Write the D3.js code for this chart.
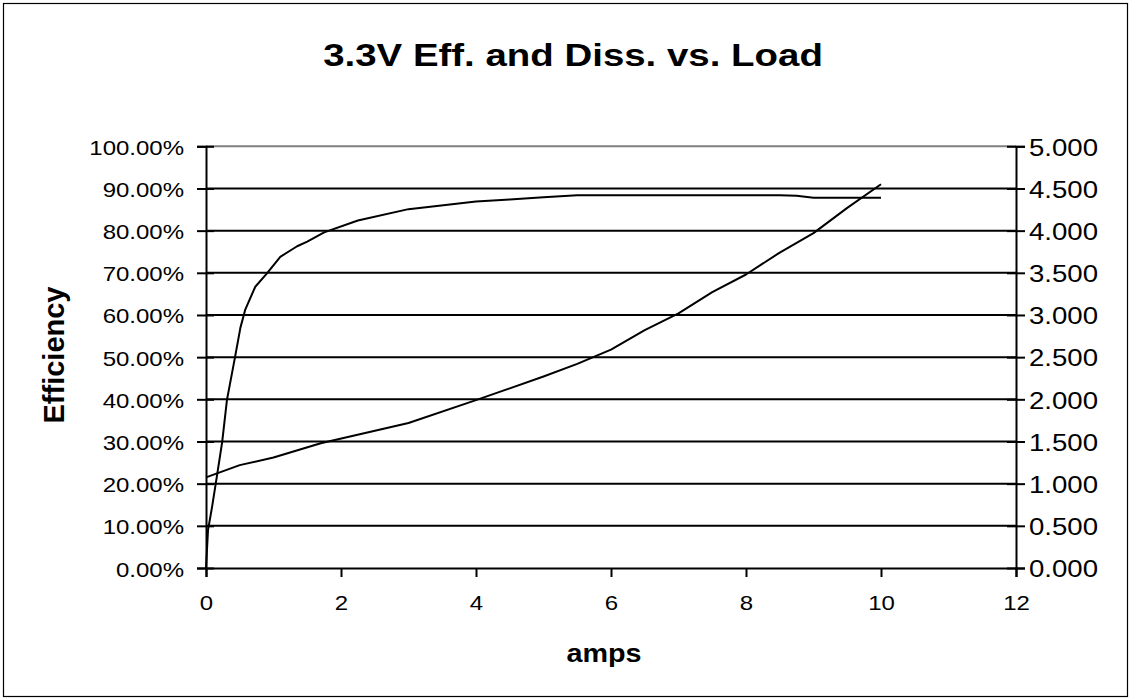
<!DOCTYPE html>
<html>
<head>
<meta charset="utf-8">
<script src="https://cdn.jsdelivr.net/npm/d3@7"></script>
<style>
  html, body { margin: 0; padding: 0; background: #fff; }
  svg { display: block; font-family: "Liberation Sans", Arial, sans-serif; }
</style>
</head>
<body>
<svg id="chart" width="1131" height="700"></svg>
<script>
// Load current (A) for the 3.3 V rail
const effAmps = [0, 0.03, 0.09, 0.16, 0.24, 0.31, 0.43, 0.51, 0.58, 0.73, 0.9, 1.1, 1.35, 1.5, 1.75, 2.25, 3.0, 4.0, 4.5, 5.0, 5.5, 6.0, 6.5, 7.0, 7.5, 8.0, 8.5, 8.75, 9.0, 9.5, 10.0];
// Conversion efficiency (fraction)
const efficiency = [0.0, 0.09, 0.145, 0.216, 0.299, 0.398, 0.50, 0.57, 0.612, 0.667, 0.698, 0.738, 0.763, 0.774, 0.796, 0.824, 0.851, 0.869, 0.874, 0.879, 0.884, 0.884, 0.884, 0.884, 0.884, 0.884, 0.884, 0.883, 0.878, 0.878, 0.878];

const dissAmps = [0, 0.5, 1.0, 1.7, 3.0, 4.0, 5.0, 5.5, 6.0, 6.5, 7.0, 7.5, 8.0, 8.5, 9.0, 9.5, 10.0];
// Power dissipated (W)
const dissipation = [1.075, 1.22, 1.31, 1.48, 1.72, 1.99, 2.27, 2.42, 2.59, 2.82, 3.02, 3.27, 3.48, 3.74, 3.97, 4.27, 4.55];

const xTicks = [0, 2, 4, 6, 8, 10, 12];
const effTicks = [0, 0.1, 0.2, 0.3, 0.4, 0.5, 0.6, 0.7, 0.8, 0.9, 1.0];
const dissTicks = [0, 0.5, 1, 1.5, 2, 2.5, 3, 3.5, 4, 4.5, 5];

const titleText = "3.3V Eff. and Diss. vs. Load";
const xTitle = "amps";
const yTitle = "Efficiency";

const svg = d3.select("#chart");
const W = 1131, H = 700;
const plot = { left: 206, right: 1016, top: 146.3, bottom: 568 };

// outer frame
svg.append("rect")
  .attr("x", 3.5).attr("y", 3.5).attr("width", W - 7).attr("height", H - 7)
  .attr("fill", "#fff").attr("stroke", "#000").attr("stroke-width", 1.2);

const x = d3.scaleLinear().domain([0, 12]).range([plot.left, plot.right]);
const yL = d3.scaleLinear().domain([0, 1]).range([plot.bottom, plot.top]);
const yR = d3.scaleLinear().domain([0, 5]).range([plot.bottom, plot.top]);

// horizontal gridlines
svg.append("g").selectAll("line")
  .data(effTicks.filter(d => d > 0 && d < 1))
  .join("line")
  .attr("x1", plot.left).attr("x2", plot.right)
  .attr("y1", d => yL(d)).attr("y2", d => yL(d))
  .attr("stroke", "#000").attr("stroke-width", 2);

// plot area top edge
svg.append("line")
  .attr("x1", plot.left).attr("x2", plot.right)
  .attr("y1", plot.top).attr("y2", plot.top)
  .attr("stroke", "#808080").attr("stroke-width", 2);

// widen glyphs horizontally around each label's anchor
function widen(sel, sx) {
  sel.each(function () {
    const t = d3.select(this);
    const xv = +t.attr("x") || 0;
    t.attr("x", xv / sx).attr("transform", `scale(${sx},1)`);
  });
}

const tickSX = 1.2;

// left axis
const gL = svg.append("g").attr("transform", `translate(${plot.left},0)`)
  .call(d3.axisLeft(yL).tickValues(effTicks).tickSize(9).tickPadding(13)
    .tickFormat(d => (d * 100).toFixed(2) + "%"));
gL.selectAll("line").attr("x1", 8);
gL.selectAll("text").attr("dy", "0.4em").attr("font-size", 20);

// right axis
const gR = svg.append("g").attr("transform", `translate(${plot.right},0)`)
  .call(d3.axisRight(yR).tickValues(dissTicks).tickSize(9).tickPadding(4)
    .tickFormat(d3.format(".3f")));
gR.selectAll("line").attr("x1", -9);
gR.selectAll("text").attr("dy", "0.38em").attr("font-size", 23);

// bottom axis
const gB = svg.append("g").attr("transform", `translate(0,${plot.bottom})`)
  .call(d3.axisBottom(x).tickValues(xTicks).tickSize(9).tickPadding(19)
    .tickFormat(d3.format("d")));
gB.selectAll("text").attr("font-size", 20);

[gL, gR, gB].forEach(g => {
  g.select(".domain").attr("stroke", "#000").attr("stroke-width", 2);
  g.selectAll(".tick line").attr("stroke", "#000").attr("stroke-width", 2);
  g.selectAll("text").attr("fill", "#000")
    .attr("font-family", "'Liberation Sans', Arial, sans-serif");
});
widen(gL.selectAll("text"), tickSX);
widen(gR.selectAll("text"), tickSX);
widen(gB.selectAll("text"), tickSX);

// series lines
const effLine = d3.line().x((d, i) => x(effAmps[i])).y(d => yL(d));
const dissLine = d3.line().x((d, i) => x(dissAmps[i])).y(d => yR(d));

svg.append("path").datum(dissipation)
  .attr("d", dissLine).attr("fill", "none")
  .attr("stroke", "#000").attr("stroke-width", 2).attr("stroke-linejoin", "round");
svg.append("path").datum(efficiency)
  .attr("d", effLine).attr("fill", "none")
  .attr("stroke", "#000").attr("stroke-width", 2).attr("stroke-linejoin", "round");

// titles
svg.append("text")
  .attr("transform", `translate(573,66) scale(1.24,1)`)
  .attr("text-anchor", "middle").attr("font-weight", "bold").attr("font-size", 31)
  .text(titleText);

svg.append("text")
  .attr("transform", `translate(604,662) scale(1.15,1)`)
  .attr("text-anchor", "middle").attr("font-weight", "bold").attr("font-size", 25)
  .text(xTitle);

svg.append("text")
  .attr("transform", `translate(64,355) rotate(-90)`)
  .attr("text-anchor", "middle").attr("font-weight", "bold").attr("font-size", 29)
  .text(yTitle);
</script>
</body>
</html>
